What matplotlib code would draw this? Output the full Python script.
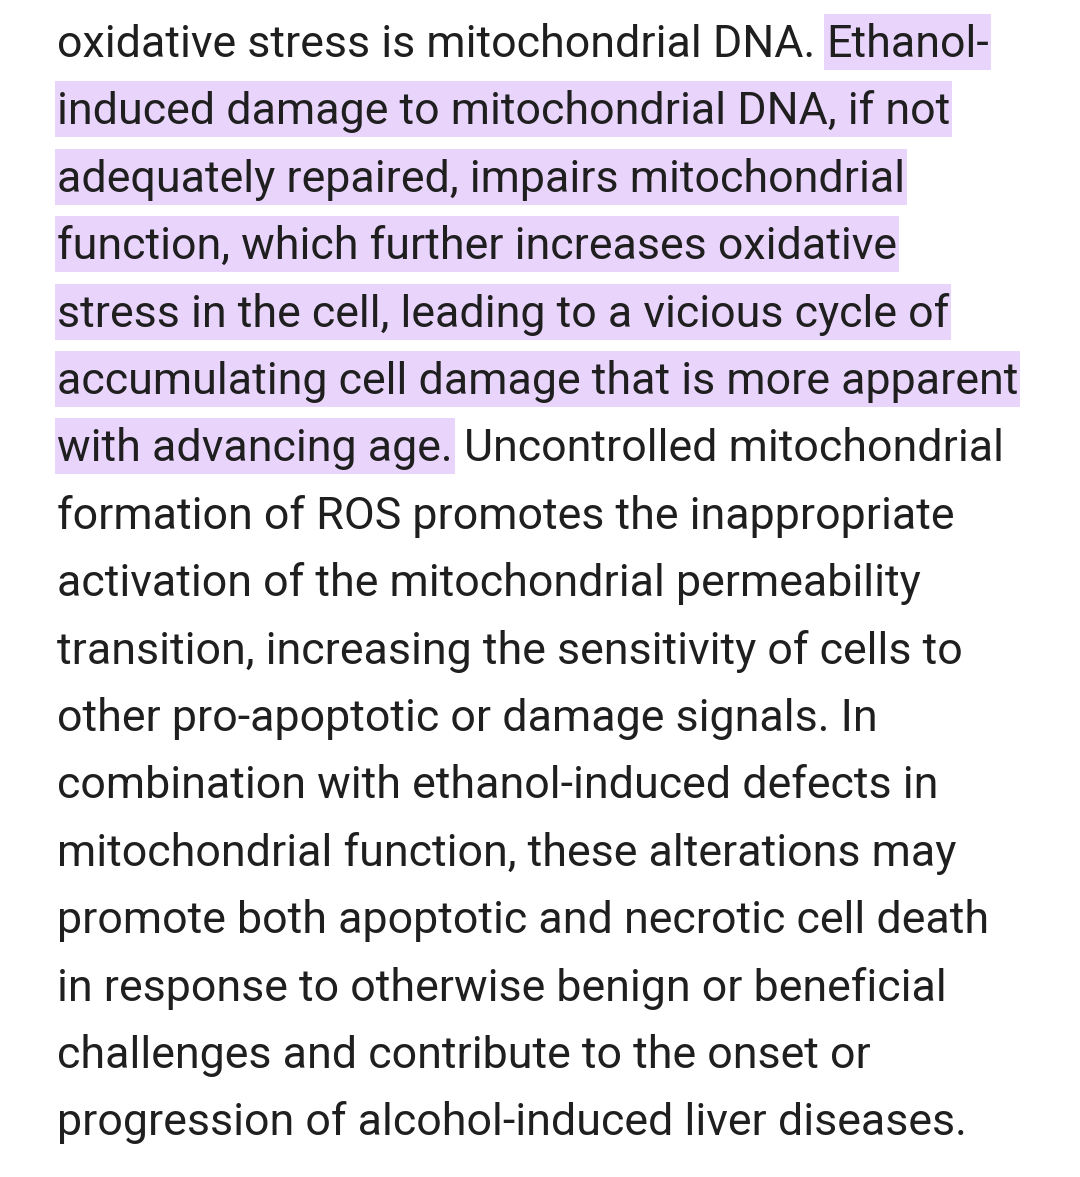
import matplotlib
matplotlib.use("Agg")
import matplotlib.pyplot as plt
from matplotlib.patches import Rectangle

# each line: list of (text, highlighted)
lines = [
    [("oxidative stress is mitochondrial DNA. ", False), ("Ethanol-", True)],
    [("induced damage to mitochondrial DNA, if not", True)],
    [("adequately repaired, impairs mitochondrial", True)],
    [("function, which further increases oxidative", True)],
    [("stress in the cell, leading to a vicious cycle of", True)],
    [("accumulating cell damage that is more apparent", True)],
    [("with advancing age.", True), (" Uncontrolled mitochondrial", False)],
    [("formation of ROS promotes the inappropriate", False)],
    [("activation of the mitochondrial permeability", False)],
    [("transition, increasing the sensitivity of cells to", False)],
    [("other pro-apoptotic or damage signals. In", False)],
    [("combination with ethanol-induced defects in", False)],
    [("mitochondrial function, these alterations may", False)],
    [("promote both apoptotic and necrotic cell death", False)],
    [("in response to otherwise benign or beneficial", False)],
    [("challenges and contribute to the onset or", False)],
    [("progression of alcohol-induced liver diseases.", False)],
]

W, H = 1080, 1177
fig = plt.figure(figsize=(W / 100, H / 100), dpi=100)
ax = fig.add_axes([0, 0, 1, 1])
ax.set_xlim(0, W)
ax.set_ylim(H, 0)
ax.axis("off")

fs = 32.2
x0 = 57
base0 = 57
step = 67.4
hl_color = "#e9d4fb"
txt_color = "#1f1f1f"
fam = ["Roboto", "DejaVu Sans"]

fig.canvas.draw()
renderer = fig.canvas.get_renderer()

for i, parts in enumerate(lines):
    y = base0 + step * i
    x = x0
    for text, hl in parts:
        t = ax.text(x, y, text, fontsize=fs, family=fam,
                    color=txt_color, va="baseline", ha="left", zorder=3)
        w = t.get_window_extent(renderer=renderer).width
        if hl:
            t2 = ax.text(0, 0, text.rstrip(), fontsize=fs, family=fam)
            w_hl = t2.get_window_extent(renderer=renderer).width
            t2.remove()
            ax.add_patch(Rectangle((x - 2, y - 43), w_hl + 4, 56,
                                   color=hl_color, lw=0, zorder=1))
        x += w

fig.savefig("out.png", dpi=100, facecolor="white")
